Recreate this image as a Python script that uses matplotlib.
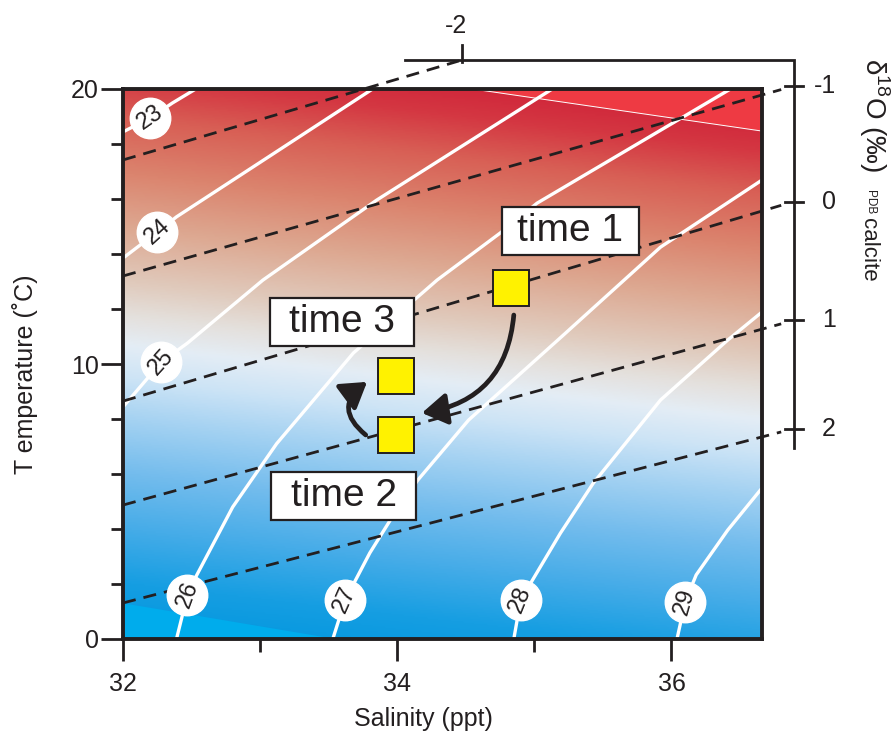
import numpy as np
import matplotlib.pyplot as plt
from matplotlib.colors import LinearSegmentedColormap
from matplotlib.patches import FancyArrowPatch, Polygon, Rectangle
from matplotlib.transforms import ScaledTranslation

plt.rcParams['font.family'] = ['Liberation Sans', 'DejaVu Sans']
plt.rcParams['mathtext.fontset'] = 'custom'
plt.rcParams['mathtext.rm'] = 'Liberation Sans'

INK = '#231f20'

# ---- values ----
sal_lim = (32.0, 36.66)
temp_lim = (0.0, 20.0)
sal_major = [32, 34, 36]
sal_minor = [33, 35]
temp_major = [0, 10, 20]
temp_minor = [2, 4, 6, 8, 12, 14, 16, 18]

# sigma-t isopycnals (salinity, temperature points along each white line)
sigma_levels = [23, 24, 25, 26, 27, 28, 29]
sigma_sal = [
    [32.00, 32.20, 32.36, 32.53],
    [32.00, 32.25, 32.39, 33.07, 33.82],
    [32.00, 32.28, 32.47, 33.02, 33.85, 35.13],
    [32.39, 32.47, 32.53, 32.80, 33.12, 33.68, 34.29, 34.75, 35.02, 36.43],
    [33.53, 33.62, 33.80, 33.95, 34.15, 34.52, 35.20, 35.92, 36.66],
    [34.85, 34.90, 35.19, 35.43, 35.92, 36.41, 36.66],
    [36.04, 36.10, 36.18, 36.41, 36.66],
]
sigma_temp = [
    [18.44, 18.95, 19.49, 20.00],
    [13.85, 14.80, 15.35, 17.56, 20.00],
    [8.44, 10.07, 10.76, 13.05, 15.96, 20.00],
    [0.00, 1.60, 2.25, 4.80, 7.10, 10.40, 13.05, 14.76, 15.85, 20.00],
    [0.00, 1.42, 3.13, 4.33, 5.78, 7.96, 11.00, 14.25, 16.69],
    [0.00, 1.42, 3.85, 5.67, 8.69, 10.87, 11.89],
    [0.00, 1.35, 2.33, 3.96, 5.49],
]
sigma_label_sal = [32.20, 32.25, 32.28, 32.47, 33.62, 34.90, 36.10]
sigma_label_temp = [18.95, 14.80, 10.07, 1.60, 1.42, 1.42, 1.35]
sigma_label_rot = [35, 42, 48, 70, 66, 68, 74]

# d18O calcite isopleths (dashed), end points
d18o_levels = [-2, -1, 0, 1, 2]
d18o_sal_start = [32.0, 32.0, 32.0, 32.0, 32.0]
d18o_temp_start = [17.42, 13.20, 8.65, 4.87, 1.31]
d18o_sal_end = [34.45, 36.80, 36.80, 36.80, 36.80]
d18o_temp_end = [21.02, 19.98, 15.77, 11.46, 7.53]

# bracket of the d18O scale
scale_sal = 36.89
scale_sal_left = 34.06
scale_temp_top = 21.05
scale_temp_bottom = 6.95

# sample positions through time
time_names = ['time 1', 'time 2', 'time 3']
time_sal = [34.83, 33.99, 33.99]
time_temp = [12.76, 7.42, 9.56]
time_label_sal = [35.26, 33.61, 33.60]
time_label_temp = [14.84, 5.20, 11.53]
time_box_w = [1.37, 1.45, 1.44]   # inches

arrow_start = [(34.85, 11.78), (33.77, 7.42)]
arrow_end = [(34.18, 8.22), (33.78, 9.35)]
arrow_rad = [-0.39, -0.64]

# background gradient stops (value = T + tilt * (S - 32))
bg_tilt = 0.58
bg_stop = [0, 2, 4, 6, 8, 9.5, 10.7, 11.8, 13, 15, 17, 19, 20.5, 22, 22.7]
bg_rgb = [(0, 150, 222), (22, 158, 226), (70, 172, 232), (115, 188, 237),
          (165, 210, 242), (205, 228, 246), (228, 237, 245), (228, 224, 220),
          (224, 202, 188), (221, 168, 145), (219, 132, 110), (216, 95, 85),
          (212, 55, 66), (207, 33, 56), (206, 30, 55)]
hilite_sal = [34.55, 36.66, 36.66]
hilite_temp = [20.0, 20.0, 18.47]
cyan_sal = [32.0, 32.0, 33.55]
cyan_temp = [0.0, 1.30, 0.0]


fig = plt.figure(figsize=(8.95, 7.38), dpi=100)
ax = fig.add_axes([123 / 895, 1 - 639 / 738, 639 / 895, 550 / 738])
ax.set_xlim(*sal_lim)
ax.set_ylim(*temp_lim)

# background
cmap = LinearSegmentedColormap.from_list(
    'bg', [(v / bg_stop[-1], tuple(c / 255 for c in rgb)) for v, rgb in zip(bg_stop, bg_rgb)])
ss = np.linspace(sal_lim[0], sal_lim[1], 300)
tt = np.linspace(temp_lim[0], temp_lim[1], 400)
SS, TT = np.meshgrid(ss, tt)
ax.imshow(TT + bg_tilt * (SS - 32), extent=[*sal_lim, *temp_lim], origin='lower',
          aspect='auto', cmap=cmap, vmin=0, vmax=bg_stop[-1], interpolation='bilinear', zorder=0)
ax.add_patch(Polygon(list(zip(hilite_sal, hilite_temp)), closed=True, fc='#ee3a43', ec='none', zorder=1))
ax.plot(hilite_sal[::2], hilite_temp[::2], color='white', lw=0.7, zorder=1)
ax.add_patch(Polygon(list(zip(cyan_sal, cyan_temp)), closed=True, fc='#00acec', ec='none', zorder=1))

# isopycnals
for s, t in zip(sigma_sal, sigma_temp):
    ax.plot(s, t, color='white', lw=2.4, zorder=2, solid_capstyle='butt', solid_joinstyle='round')

# d18O dashed lines
for s0, t0, s1, t1 in zip(d18o_sal_start, d18o_temp_start, d18o_sal_end, d18o_temp_end):
    ax.plot([s0, s1], [t0, t1], color=INK, lw=2, dashes=(4.7, 2.9), clip_on=False, zorder=3)

# isopycnal labels
ax.scatter(sigma_label_sal, sigma_label_temp, s=850, c='white', zorder=4, clip_on=False)
for lev, s, t, r in zip(sigma_levels, sigma_label_sal, sigma_label_temp, sigma_label_rot):
    ax.text(s, t, str(lev), rotation=r, ha='center', va='center', rotation_mode='anchor',
            fontsize=17, color=INK, zorder=5)

# time labels in boxes
for name, s, t, w in zip(time_names, time_label_sal, time_label_temp, time_box_w):
    tr = fig.dpi_scale_trans + ScaledTranslation(s, t, ax.transData)
    ax.add_patch(Rectangle((-w / 2, -0.24), w, 0.48, transform=tr, fc='white', ec=INK,
                           lw=1.6, zorder=6, clip_on=False))
    ax.text(s, t, name, ha='center', va='center', fontsize=28, color=INK, zorder=7)

# arrows
for a, b, r in zip(arrow_start, arrow_end, arrow_rad):
    ax.add_patch(FancyArrowPatch(a, b, connectionstyle=f'arc3,rad={r}',
                                 arrowstyle='-|>,head_length=0.95,head_width=0.6',
                                 mutation_scale=16, lw=3.4, color=INK,
                                 shrinkA=0, shrinkB=0, zorder=7))

# samples
ax.plot(time_sal, time_temp, ls='none', marker='s', ms=25.5, mfc='#fff200', mec=INK,
        mew=1.4, zorder=8)

# axes styling
ax.set_xticks(sal_major)
ax.set_xticks(sal_minor, minor=True)
ax.set_yticks(temp_major)
ax.set_yticks(temp_minor, minor=True)
ax.tick_params(which='both', direction='out', width=2, color=INK, labelcolor=INK, labelsize=18)
ax.tick_params(which='major', length=16)
ax.tick_params(which='minor', length=9)
ax.tick_params(axis='x', pad=8)
ax.tick_params(axis='y', pad=1.5)
for sp in ax.spines.values():
    sp.set_linewidth(2.8)
    sp.set_color(INK)
    sp.set_zorder(9)

# d18O scale bracket
ax.plot([scale_sal_left, scale_sal, scale_sal], [scale_temp_top, scale_temp_top, scale_temp_bottom],
        color=INK, lw=2, clip_on=False, solid_joinstyle='miter', zorder=3)
for lev, s0, t0, s1, t1 in zip(d18o_levels, d18o_sal_start, d18o_temp_start, d18o_sal_end, d18o_temp_end):
    slope = (t1 - t0) / (s1 - s0)
    if lev == d18o_levels[0]:
        st = s0 + (scale_temp_top - t0) / slope
        ax.plot([st, st], [scale_temp_top - 0.08, scale_temp_top + 0.55], color=INK, lw=2,
                clip_on=False)
        ax.text(st - 0.04, 22.05, str(lev), ha='center', va='baseline', fontsize=18, color=INK)
    else:
        tk = t0 + slope * (scale_sal - s0)
        ax.plot([scale_sal - 0.06, scale_sal + 0.07], [tk, tk], color=INK, lw=2, clip_on=False)
        ax.text(37.20, tk, str(lev), ha='right', va='center', fontsize=18, color=INK)

# axis titles
fig.text(25 / 895, 1 - 374 / 738, 'T emperature (˚C)', rotation=90, ha='center', va='center',
         fontsize=18, color=INK)
fig.text(423 / 895, 1 - 719 / 738, 'Salinity (ppt)', ha='center', va='center', fontsize=18, color=INK)
fig.text(865 / 895, 1 - 58 / 738, 'δ$^{18}$O (‰)', rotation=270, rotation_mode='anchor',
         ha='left', va='baseline', fontsize=20, color=INK)
fig.text(867 / 895, 1 - 190 / 738, 'PDB', rotation=270, rotation_mode='anchor',
         ha='left', va='baseline', fontsize=8.5, color=INK)
fig.text(863 / 895, 1 - 218 / 738, 'calcite', rotation=270, rotation_mode='anchor',
         ha='left', va='baseline', fontsize=16, color=INK)

fig.savefig('out.png', dpi=100)
